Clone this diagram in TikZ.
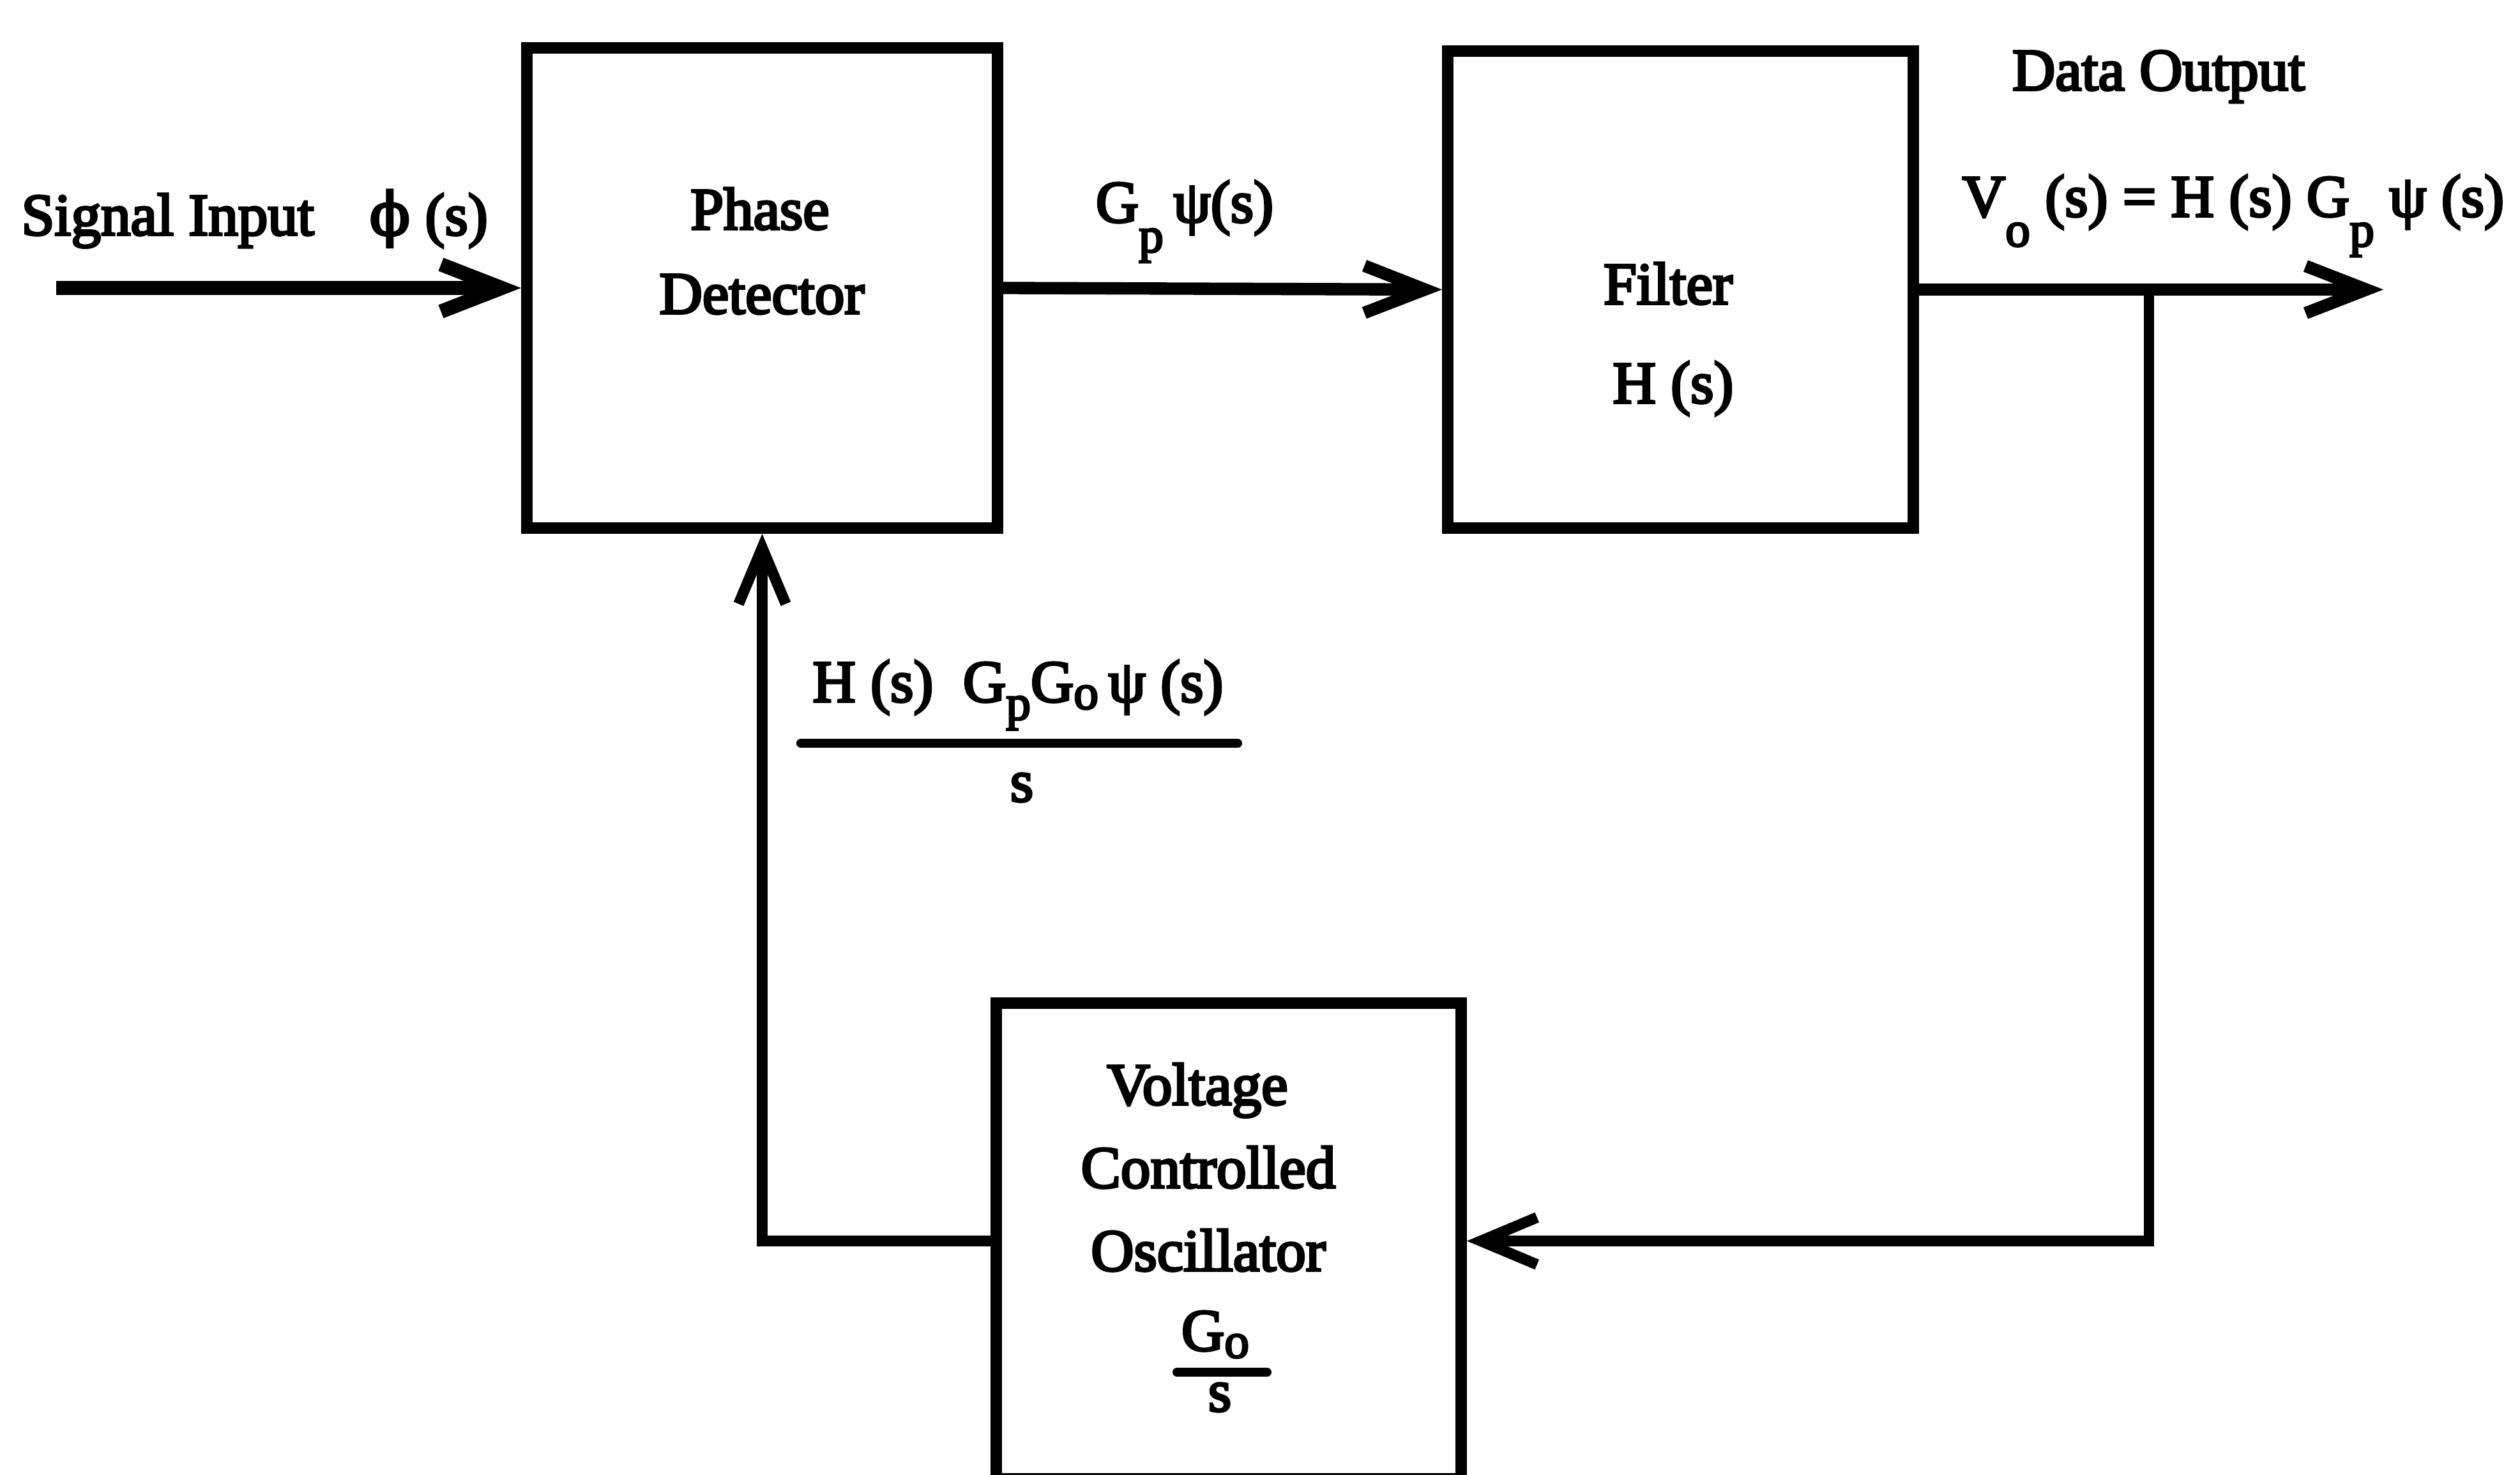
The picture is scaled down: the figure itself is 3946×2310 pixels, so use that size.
\documentclass[tikz,border=0pt]{standalone}
\usepackage{fontspec}
\setmainfont{Liberation Serif}[UprightFeatures={FakeBold=4}]
\newfontfamily\phifont{DejaVu Serif}[UprightFeatures={FakeBold=4}]
\usetikzlibrary{arrows.meta}
\newcommand{\lsub}[2]{\raisebox{#1}{\fontsize{22}{22}\selectfont #2}}
\begin{document}
\begin{tikzpicture}[x=0.01cm,y=-0.01cm,
  lbl/.style={anchor=base, inner sep=0pt, font=\fontsize{26.5}{30}\selectfont},
  blk/.style={draw, line width=5pt, rectangle, inner sep=0pt},
  arr/.style={line width=5.5pt, -{Straight Barb[length=27pt,width=21pt]}},
  fbarr/.style={line width=4.8pt, -{Straight Barb[length=25pt,width=21pt]}},
  bar/.style={line width=4pt, line cap=round}
]
\useasboundingbox (0,0) rectangle (3946,2310);
\fill[white] (0,0) rectangle (3946,2310);

% blocks
\node[blk, minimum width=7.37cm, minimum height=7.52cm] (pd) at (1193.5,451) {};
\node[blk, minimum width=7.29cm, minimum height=7.47cm] (flt) at (2631.5,453.5) {};
\node[blk, minimum width=7.28cm, minimum height=7.45cm] (vco) at (1924,1943.5) {};

% block texts
\node[lbl] (pd1) at (1190,359) {Phase};
\node[lbl] (pd2) at (1193,491) {Detector};
\node[lbl] (f1) at (2612,476) {Filter};
\node[lbl] (f2) at (2620,631) {H (s)};
\node[lbl] (v1) at (1875,1730) {Voltage};
\node[lbl] (v2) at (1892,1860) {Controlled};
\node[lbl] (v3) at (1892,1990) {Oscillator};
\node[lbl] (v4) at (1903,2115) {G\lsub{-0.12em}{o}};
\node[lbl] (v5) at (1910,2210) {s};
\draw[bar] (1843,2149) -- (1984,2149);

% signal labels
\node[lbl, anchor=base west] (sin) at (33,368) {Signal Input};
\node[lbl, anchor=base west] (phi) at (578,368) {{\phifont ϕ} (s)};
\node[lbl] (gp) at (1855,348) {G\lsub{-0.5em}{p}\,ψ(s)};
\node[lbl] (dout) at (3380,141) {Data Output};
\node[lbl] (vo) at (3497,339) {V\lsub{-0.5em}{o} (s) = H (s) G\lsub{-0.5em}{p} ψ (s)};
\node[lbl] (fbn) at (1594,1099) {H (s)\ \ G\lsub{-0.3em}{p}G\lsub{-0.12em}{o}\,ψ (s)};
\node[lbl] (fbd) at (1600,1255) {s};
\draw[bar] (1254,1164) -- (1938,1164);

% connectors
\coordinate (in) at (88,451);
\coordinate (out) at (3732,453.5);
\coordinate (br) at (3365,453.5);
\draw[arr, line width=6.3pt] (in) -- (pd.west);
\draw[arr] (pd.east) -- (flt.west);
\draw[arr] (flt.east) -- (out);
\draw[fbarr] (br) |- (vco.east);
\draw[fbarr] (vco.west) -| (pd.south);
\end{tikzpicture}
\end{document}
